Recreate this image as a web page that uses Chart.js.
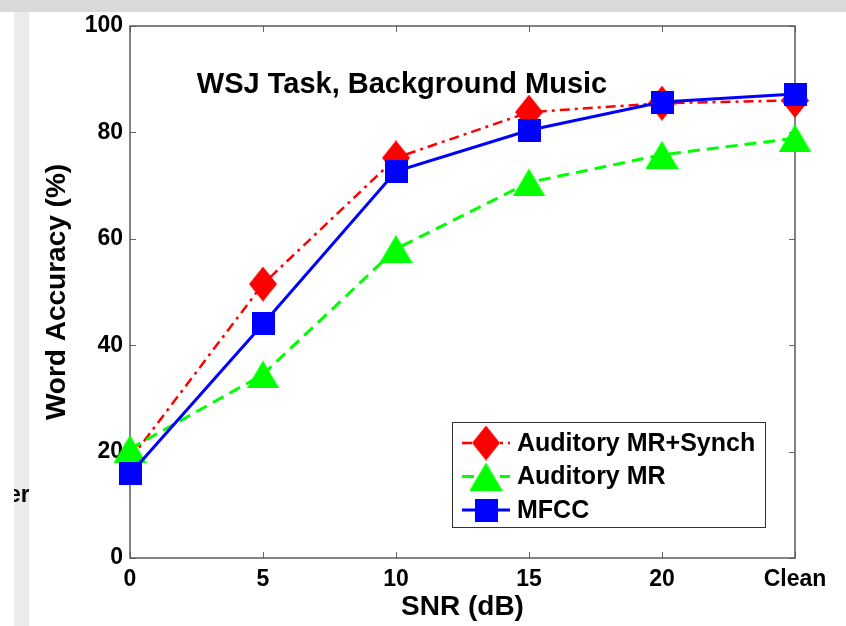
<!DOCTYPE html>
<html>
<head>
<meta charset="utf-8">
<script src="https://cdn.jsdelivr.net/npm/chart.js@4/dist/chart.umd.min.js"></script>
<style>
  html, body { margin: 0; padding: 0; background: #fff; }
  canvas { display: block; }
</style>
</head>
<body>
<canvas id="snrChart" width="846" height="626"></canvas>
<script>
// SNR conditions and word accuracy (%) per front end
const snrLabels = ["0", "5", "10", "15", "20", "Clean"];
const yTicks = [0, 20, 40, 60, 80, 100];
const mrSynch = [18.5, 51.5, 75.2, 83.8, 85.5, 86.0];
const auditoryMR = [20.5, 34.5, 58.1, 70.6, 75.8, 78.9];
const mfcc = [15.8, 44.0, 72.7, 80.4, 85.7, 87.2];

const FONT = '"Liberation Sans", Arial, Helvetica, sans-serif';

// filled marker sprites, centred on the data point like MATLAB markers
function marker(kind, w, h, color) {
  const c = document.createElement("canvas");
  c.width = w; c.height = h;
  const g = c.getContext("2d");
  g.fillStyle = color;
  g.beginPath();
  if (kind === "diamond") {
    g.moveTo(w / 2, 0); g.lineTo(w, h / 2); g.lineTo(w / 2, h); g.lineTo(0, h / 2);
  } else if (kind === "triangle") {
    g.moveTo(w / 2, 0); g.lineTo(w, h); g.lineTo(0, h);
  } else {
    g.rect(0, 0, w, h);
  }
  g.closePath();
  g.fill();
  return c;
}

// grey window edges and the clipped word peeking in at the left
const pageBack = {
  id: "pageBack",
  beforeDraw(chart) {
    const ctx = chart.ctx;
    ctx.save();
    ctx.fillStyle = "#fff";
    ctx.fillRect(0, 0, chart.width, chart.height);
    ctx.fillStyle = "#d9d9d9";
    ctx.fillRect(0, 0, chart.width, 12);
    ctx.fillStyle = "#ebebeb";
    ctx.fillRect(14, 12, 15, chart.height - 12);
    ctx.beginPath();
    ctx.rect(14, 12, 15, chart.height - 12);
    ctx.clip();
    ctx.fillStyle = "#000";
    ctx.font = "bold 23px " + FONT;
    ctx.textBaseline = "alphabetic";
    ctx.fillText("er", 8, 502);
    ctx.restore();
  }
};

// box frame with inward ticks on all four sides
const boxFrame = {
  id: "boxFrame",
  beforeDatasetsDraw(chart) {
    const {ctx, chartArea: a, scales: {x, y}} = chart;
    const len = 6;
    ctx.save();
    ctx.strokeStyle = "#666";
    ctx.lineWidth = 1;
    ctx.beginPath();
    x.ticks.forEach((t, i) => {
      const px = Math.round(x.getPixelForTick(i)) + 0.5;
      ctx.moveTo(px, a.bottom); ctx.lineTo(px, a.bottom - len);
      ctx.moveTo(px, a.top); ctx.lineTo(px, a.top + len);
    });
    y.ticks.forEach(t => {
      const py = Math.round(y.getPixelForValue(t.value)) + 0.5;
      ctx.moveTo(a.left, py); ctx.lineTo(a.left + len, py);
      ctx.moveTo(a.right, py); ctx.lineTo(a.right - len, py);
    });
    ctx.stroke();
    ctx.lineWidth = 1.5;
    ctx.strokeStyle = "#5a5a5a";
    ctx.strokeRect(a.left, a.top, a.right - a.left, a.bottom - a.top);
    ctx.restore();
  }
};

// plot title sitting inside the axes
const innerTitle = {
  id: "innerTitle",
  afterDatasetsDraw(chart) {
    const {ctx, chartArea: a} = chart;
    ctx.save();
    ctx.fillStyle = "#000";
    ctx.font = "bold 29px " + FONT;
    ctx.textAlign = "center";
    ctx.textBaseline = "alphabetic";
    ctx.fillText("WSJ Task, Background Music", a.left + 272, a.top + 67);
    ctx.restore();
  }
};

// boxed legend in the lower right corner of the axes
const boxLegend = {
  id: "boxLegend",
  afterDraw(chart) {
    const {ctx, chartArea: a} = chart;
    const w = 313, h = 105;
    const x0 = a.right - 30 - w, y0 = a.bottom - 31 - h;
    ctx.save();
    ctx.fillStyle = "#fff";
    ctx.fillRect(x0, y0, w, h);
    ctx.strokeStyle = "#333";
    ctx.lineWidth = 1;
    ctx.strokeRect(x0 + 0.5, y0 + 0.5, w, h);
    chart.data.datasets.forEach((ds, i) => {
      const cy = y0 + 21 + i * 33.5;
      ctx.strokeStyle = ds.borderColor;
      ctx.lineWidth = ds.borderWidth;
      ctx.setLineDash(ds.borderDash || []);
      ctx.beginPath();
      ctx.moveTo(x0 + 10, cy);
      ctx.lineTo(x0 + 58, cy);
      ctx.stroke();
      ctx.setLineDash([]);
      const m = ds.pointStyle;
      ctx.drawImage(m, x0 + 34 - m.width / 2, cy - m.height / 2);
      ctx.fillStyle = "#000";
      ctx.font = "bold 25px " + FONT;
      ctx.textBaseline = "middle";
      ctx.fillText(ds.label, x0 + 65, cy + 1);
    });
    ctx.restore();
  }
};

new Chart(document.getElementById("snrChart"), {
  type: "line",
  data: {
    labels: snrLabels,
    datasets: [
      {
        label: "Auditory MR+Synch",
        data: mrSynch,
        borderColor: "#ff0000",
        borderWidth: 2.5,
        borderDash: [10, 5, 3, 5],
        pointStyle: marker("diamond", 28, 35, "#ff0000"),
        pointRadius: 14,
        tension: 0,
        clip: false,
        order: 3
      },
      {
        label: "Auditory MR",
        data: auditoryMR,
        borderColor: "#00ff00",
        borderWidth: 3,
        borderDash: [12, 7],
        pointStyle: marker("triangle", 33, 28, "#00ff00"),
        pointRadius: 14,
        tension: 0,
        clip: false,
        order: 2
      },
      {
        label: "MFCC",
        data: mfcc,
        borderColor: "#0000ff",
        borderWidth: 3,
        pointStyle: marker("square", 23, 23, "#0000ff"),
        pointRadius: 12,
        tension: 0,
        clip: false,
        order: 1
      }
    ]
  },
  options: {
    responsive: false,
    animation: false,
    layout: { padding: { top: 26, right: 51, bottom: 0, left: 0 } },
    plugins: { legend: { display: false }, tooltip: { enabled: false } },
    scales: {
      x: {
        type: "category",
        offset: false,
        grid: { display: false, drawTicks: false },
        border: { display: false },
        ticks: { color: "#000", font: { family: FONT, size: 23, weight: "bold" }, padding: 8, maxRotation: 0 },
        title: { display: true, text: "SNR (dB)", color: "#000", font: { family: FONT, size: 28, weight: "bold" }, padding: { top: 0, bottom: 2 } },
        afterFit(s) { s.height = 68; }
      },
      y: {
        min: 0,
        max: 100,
        grid: { display: false, drawTicks: false },
        border: { display: false },
        ticks: { color: "#000", font: { family: FONT, size: 23, weight: "bold" }, padding: 7 },
        afterBuildTicks(s) { s.ticks = yTicks.map(v => ({ value: v })); },
        title: { display: true, text: "Word Accuracy (%)", color: "#000", font: { family: FONT, size: 28, weight: "bold" }, padding: { top: 40, bottom: 0 } },
        afterFit(s) { s.width = 130; }
      }
    }
  },
  plugins: [pageBack, boxFrame, innerTitle, boxLegend]
});
</script>
</body>
</html>
